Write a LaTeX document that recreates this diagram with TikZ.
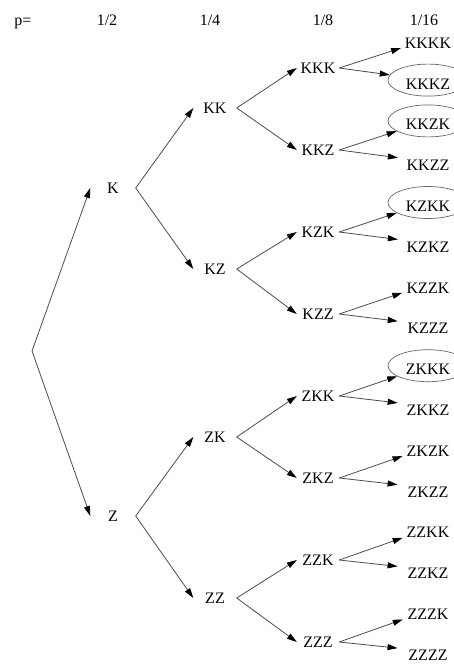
\documentclass[tikz,border=0pt]{standalone}
\usepackage{fontspec}
\setmainfont{Liberation Serif}
\usetikzlibrary{arrows.meta,shapes.geometric}
\begin{document}
\begin{tikzpicture}[x=1pt,y=-1pt,
  every node/.style={font=\fontsize{16}{19}\selectfont, inner sep=0pt},
  lvA/.style={minimum width=45},
  lvB/.style={minimum width=43},
  lvC/.style={minimum width=42},
  leaf/.style={ellipse, minimum width=62, minimum height=30, text height=18pt, text depth=0pt},
  circled/.style={leaf, draw=black!60, line width=0.7pt, minimum width=80, minimum height=32},
  edge/.style={draw=black!70, line width=0.8pt, -{Triangle[length=10pt,width=6pt,fill=black,color=black]}},
  hdr/.style={anchor=base}]
\useasboundingbox (0,0) rectangle (454,664);
% header
\node[hdr] (hp)  at (23,25.5)  {p=};
\node[hdr] (h1)  at (107,25.5) {1/2};
\node[hdr] (h2)  at (210,25.5) {1/4};
\node[hdr] (h3)  at (323,25.5) {1/8};
\node[hdr] (h4)  at (424,25.5) {1/16};
% root
\coordinate (r) at (32,351);
% level 1
\node[lvA] (k) at (113,188) {K};
\node[lvA] (z) at (113,516) {Z};
% level 2
\node[lvB] (kk) at (215,108) {KK};
\node[lvB] (kz) at (215,269) {KZ};
\node[lvB] (zk) at (215,437) {ZK};
\node[lvB] (zz) at (215,598) {ZZ};
% level 3
\node[lvC] (kkk) at (318,68)  {KKK};
\node[lvC] (kkz) at (318,150) {KKZ};
\node[lvC] (kzk) at (318,232) {KZK};
\node[lvC] (kzz) at (318,314) {KZZ};
\node[lvC] (zkk) at (318,396) {ZKK};
\node[lvC] (zkz) at (318,478) {ZKZ};
\node[lvC] (zzk) at (318,560) {ZZK};
\node[lvC] (zzz) at (318,642) {ZZZ};
% level 4
\node[leaf]    (kkkk) at (428,39.3)  {KKKK};
\node[circled] (kkkz) at (428,80.1)  {KKKZ};
\node[circled] (kkzk) at (428,120.9) {KKZK};
\node[leaf]    (kkzz) at (428,161.7) {KKZZ};
\node[circled] (kzkk) at (428,202.5) {KZKK};
\node[leaf]    (kzkz) at (428,243.3) {KZKZ};
\node[leaf]    (kzzk) at (428,284.1) {KZZK};
\node[leaf]    (kzzz) at (428,324.9) {KZZZ};
\node[circled] (zkkk) at (428,365.7) {ZKKK};
\node[leaf]    (zkkz) at (428,406.5) {ZKKZ};
\node[leaf]    (zkzk) at (428,447.3) {ZKZK};
\node[leaf]    (zkzz) at (428,488.1) {ZKZZ};
\node[leaf]    (zzkk) at (428,528.9) {ZZKK};
\node[leaf]    (zzkz) at (428,569.7) {ZZKZ};
\node[leaf]    (zzzk) at (428,610.5) {ZZZK};
\node[leaf]    (zzzz) at (428,651.3) {ZZZZ};
% edges
\draw[edge] (r) -- (k.west);
\draw[edge] (r) -- (z.west);
\draw[edge] (k.east) -- (kk.west);
\draw[edge] (k.east) -- (kz.west);
\draw[edge] (z.east) -- (zk.west);
\draw[edge] (z.east) -- (zz.west);
\draw[edge] (kk.east) -- (kkk.west);
\draw[edge] (kk.east) -- (kkz.west);
\draw[edge] (kz.east) -- (kzk.west);
\draw[edge] (kz.east) -- (kzz.west);
\draw[edge] (zk.east) -- (zkk.west);
\draw[edge] (zk.east) -- (zkz.west);
\draw[edge] (zz.east) -- (zzk.west);
\draw[edge] (zz.east) -- (zzz.west);
\draw[edge] (kkk.east) -- (kkkk);
\draw[edge] (kkk.east) -- (kkkz);
\draw[edge] (kkz.east) -- (kkzk);
\draw[edge] (kkz.east) -- (kkzz);
\draw[edge] (kzk.east) -- (kzkk);
\draw[edge] (kzk.east) -- (kzkz);
\draw[edge] (kzz.east) -- (kzzk);
\draw[edge] (kzz.east) -- (kzzz);
\draw[edge] (zkk.east) -- (zkkk);
\draw[edge] (zkk.east) -- (zkkz);
\draw[edge] (zkz.east) -- (zkzk);
\draw[edge] (zkz.east) -- (zkzz);
\draw[edge] (zzk.east) -- (zzkk);
\draw[edge] (zzk.east) -- (zzkz);
\draw[edge] (zzz.east) -- (zzzk);
\draw[edge] (zzz.east) -- (zzzz);
\end{tikzpicture}
\end{document}
